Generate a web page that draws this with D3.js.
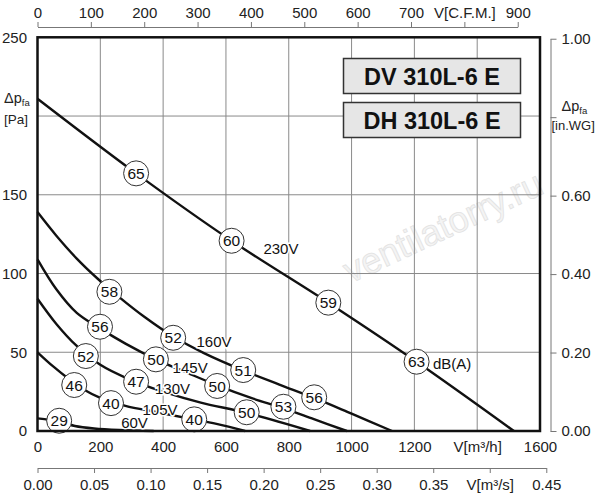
<!DOCTYPE html>
<html>
<head>
<meta charset="utf-8">
<script src="https://cdn.jsdelivr.net/npm/d3@7"></script>
<style>
  body { margin: 0; background: #fff; }
  svg { font-family: Arial, "Liberation Sans", sans-serif; }
</style>
</head>
<body>
<script>
// fan curve values (flow m3/h, pressure Pa)
var flowTicks = [0, 200, 400, 600, 800, 1000, 1200, 1400, 1600];
var pressureTicks = [0, 50, 100, 150, 200, 250];
var cfmTicks = [0, 100, 200, 300, 400, 500, 600, 700, 800, 900];
var m3sTicks = [0, 0.05, 0.10, 0.15, 0.20, 0.25, 0.30, 0.35, 0.40, 0.45];
var wgTicks = [0, 0.2, 0.4, 0.6, 0.8, 1.0];

var models = ["DV 310L-6 E", "DH 310L-6 E"];
var voltages = ["230V", "160V", "145V", "130V", "105V", "60V"];

var curve230 = [[0, 211], [314, 163.6], [618, 120.8], [926, 81.5], [1207, 44], [1517, 0]];
var curve160 = [[0, 139], [60, 124], [125, 109.5], [190, 97], [260, 85], [340, 72.5], [432, 60],
                [530, 49.5], [655, 38.5], [770, 29.5], [881, 21], [1000, 11], [1129, 0]];
var curve145 = [[0, 109], [60, 90], [125, 75], [200, 65], [280, 55.5], [377, 45.5], [476, 37],
                [572, 29], [680, 21], [782, 14.5], [880, 7.5], [985, 0]];
var curve130 = [[0, 84], [60, 68], [125, 54], [200, 42], [290, 33], [400, 25], [520, 18],
                [666, 11.5], [868, 0]];
var curve105 = [[0, 50], [50, 41], [100, 33], [150, 26], [200, 21], [280, 16], [380, 12],
                [480, 8], [570, 4.5], [661, 0]];
var curve60 = [[0, 8], [69, 6], [119, 3.2], [180, 1.6], [260, 0.6], [370, 0]];
var curves = [curve230, curve160, curve145, curve130, curve105, curve60];

// where the voltage names sit (flow, pressure)
var voltageLabelAt = [[775, 115.6], [562, 56.5], [486, 39.9], [430, 26.7], [390, 13.8], [309, 5.3]];

// sound levels dB(A) along the curves: flow, pressure, level
var noisePoints = [
  [314, 163.6, 65], [618, 120.8, 60], [926, 81.5, 59], [1207, 44, 63],
  [229, 88.4, 58], [432, 59.2, 52], [655, 38.7, 51], [881, 21.4, 56],
  [199, 66.2, 56], [377, 45.5, 50], [572, 28.6, 50], [783, 15.4, 53],
  [154, 47.6, 52], [314, 31.3, 47], [666, 11.9, 50],
  [117, 29.2, 46], [234, 17.7, 40], [499, 7.4, 40],
  [69, 6.5, 29]
];
var unitPoint = [1259, 42.5];

var w = 600;
var h = 500;
var PA_PER_INWG = 249.09;
var M3H_PER_CFM = 1.699;

var svg = d3.select("body")
            .append("svg")
            .attr("width", w)
            .attr("height", h);

var x = d3.scaleLinear().domain([0, 1600]).range([37.5, 540]);
var y = d3.scaleLinear().domain([0, 250]).range([431, 37.3]);
var xCfm = d3.scaleLinear().domain([0, 900]).range([x(0), x(900 * M3H_PER_CFM)]);
var xM3s = d3.scaleLinear().domain([0, 0.45]).range([x(0), x(0.45 * 3600)]);
var yWg = d3.scaleLinear().domain([0, 1]).range([y(0), y(PA_PER_INWG)]);

// faint watermark
svg.append("text")
  .attr("transform", "translate(448,238) rotate(-25)")
  .attr("text-anchor", "middle")
  .attr("font-size", 36)
  .attr("fill", "#f4f4f4")
  .attr("stroke", "#e2e2e2")
  .attr("stroke-width", 0.8)
  .text("ventilatorry.ru");

// grid
svg.append("g").selectAll("line")
  .data(flowTicks.slice(1, -1))
  .enter().append("line")
  .attr("x1", function(d) { return x(d); })
  .attr("x2", function(d) { return x(d); })
  .attr("y1", y(0)).attr("y2", y(250))
  .attr("stroke", "#8a8a8a").attr("stroke-width", 1);

svg.append("g").selectAll("line")
  .data(pressureTicks.slice(1, -1))
  .enter().append("line")
  .attr("y1", function(d) { return y(d); })
  .attr("y2", function(d) { return y(d); })
  .attr("x1", x(0)).attr("x2", x(1600))
  .attr("stroke", "#8a8a8a").attr("stroke-width", 1);

// model boxes
var boxes = svg.append("g").selectAll("g")
  .data(models)
  .enter().append("g")
  .attr("transform", function(d, i) { return "translate(343.5," + (58.5 + i * 44) + ")"; });

boxes.append("rect")
  .attr("width", 177).attr("height", 35)
  .attr("fill", "#e6e6e6")
  .attr("stroke", "#333").attr("stroke-width", 1.5);

boxes.append("text")
  .attr("x", 88.5).attr("y", 26)
  .attr("text-anchor", "middle")
  .attr("font-size", 23.5)
  .attr("font-weight", "bold")
  .attr("fill", "#111")
  .text(function(d) { return d; });

// fan curves
var line = d3.line()
  .x(function(d) { return x(d[0]); })
  .y(function(d) { return y(d[1]); })
  .curve(d3.curveCatmullRom.alpha(0.5));

svg.append("g").selectAll("path")
  .data(curves)
  .enter().append("path")
  .attr("d", line)
  .attr("fill", "none")
  .attr("stroke", "#111")
  .attr("stroke-width", 2.4);

// voltage names, with a white halo so the curve breaks under them
svg.append("g").selectAll("text")
  .data(voltages)
  .enter().append("text")
  .attr("x", function(d, i) { return x(voltageLabelAt[i][0]); })
  .attr("y", function(d, i) { return y(voltageLabelAt[i][1]); })
  .attr("dy", "0.35em")
  .attr("text-anchor", "middle")
  .attr("font-size", 15)
  .attr("fill", "#111")
  .attr("stroke", "#fff").attr("stroke-width", 3)
  .attr("paint-order", "stroke")
  .text(function(d) { return d; });

svg.append("text")
  .attr("x", x(unitPoint[0])).attr("y", y(unitPoint[1]))
  .attr("dy", "0.35em")
  .attr("font-size", 15)
  .attr("fill", "#111")
  .text("dB(A)");

// sound level circles
var marks = svg.append("g").selectAll("g")
  .data(noisePoints)
  .enter().append("g")
  .attr("transform", function(d) { return "translate(" + x(d[0]) + "," + y(d[1]) + ")"; });

marks.append("circle")
  .attr("r", 12.5)
  .attr("fill", "#fff")
  .attr("stroke", "#333").attr("stroke-width", 1);

marks.append("text")
  .attr("dy", "0.36em")
  .attr("text-anchor", "middle")
  .attr("font-size", 15.5)
  .attr("fill", "#111")
  .text(function(d) { return d[2]; });

// frame
svg.append("rect")
  .attr("x", x(0)).attr("y", y(250))
  .attr("width", x(1600) - x(0))
  .attr("height", y(0) - y(250))
  .attr("fill", "none")
  .attr("stroke", "#111").attr("stroke-width", 2.5);

// axes
var styleAxis = function(g, showDomain) {
  g.selectAll("text").attr("font-size", 15).attr("fill", "#222").attr("font-family", null);
  g.selectAll("line").attr("stroke", "#777");
  g.select(".domain").attr("stroke", showDomain ? "#777" : "none");
};

svg.append("g")
  .attr("transform", "translate(0," + y(0) + ")")
  .call(d3.axisBottom(x).tickValues(flowTicks).tickSize(0).tickPadding(10.5)
    .tickFormat(function(d) { return d === 1400 ? "V[m³/h]" : d; }))
  .call(styleAxis, false);

svg.append("g")
  .attr("transform", "translate(" + x(0) + ",0)")
  .call(d3.axisLeft(y).tickValues(pressureTicks).tickSize(0).tickPadding(10.5)
    .tickFormat(function(d) { return d === 200 ? "" : d; }))
  .call(styleAxis, false);

svg.append("g")
  .attr("transform", "translate(0,27)")
  .call(d3.axisTop(xCfm).tickValues(cfmTicks).tickSize(5).tickSizeOuter(0).tickPadding(4)
    .tickFormat(function(d) { return d === 800 ? "V[C.F.M.]" : d; }))
  .call(styleAxis, true);

svg.append("g")
  .attr("transform", "translate(0,468)")
  .call(d3.axisBottom(xM3s).tickValues(m3sTicks).tickSize(5).tickSizeOuter(0).tickPadding(6.5)
    .tickFormat(function(d) { return d === 0.40 ? "V[m³/s]" : d3.format(".2f")(d); }))
  .call(styleAxis, true);

svg.append("g")
  .attr("transform", "translate(550.5,0)")
  .call(d3.axisRight(yWg).tickValues(wgTicks).tickSize(6).tickSizeOuter(0).tickPadding(5)
    .tickFormat(function(d) { return d === 0.8 ? "" : d3.format(".2f")(d); }))
  .call(styleAxis, true);

// pressure axis titles
var dp = function(xPos, yPos) {
  var t = svg.append("text")
    .attr("x", xPos).attr("y", yPos)
    .attr("font-size", 14.5)
    .attr("fill", "#222");
  t.append("tspan").text("Δp");
  t.append("tspan").attr("font-size", 9.5).attr("dy", 3).text("fa");
};
dp(4, 103);
dp(561.5, 111);

svg.append("text")
  .attr("x", 4).attr("y", 123.5)
  .attr("font-size", 13.5).attr("fill", "#222")
  .text("[Pa]");

svg.append("text")
  .attr("x", 551.5).attr("y", 130)
  .attr("font-size", 13).attr("fill", "#222")
  .text("[in.WG]");
</script>
</body>
</html>
